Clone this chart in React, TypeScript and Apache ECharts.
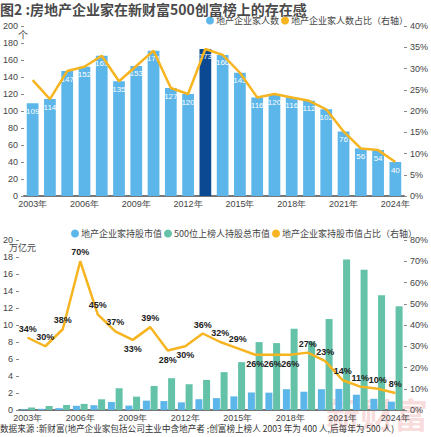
import React, { useEffect, useRef } from 'react';
import * as echarts from 'echarts';

// Years on both charts
const years = [
  '2003年', '2004年', '2005年', '2006年', '2007年', '2008年', '2009年', '2010年',
  '2011年', '2012年', '2013年', '2014年', '2015年', '2016年', '2017年', '2018年',
  '2019年', '2020年', '2021年', '2022年', '2023年', '2024年',
];

// Upper chart: number of real-estate entrepreneurs on the list and their share (%)
const entrepreneurCount = [109, 114, 147, 152, 165, 135, 153, 171, 127, 120, 173, 166, 145, 116, 120, 116, 112, 102, 76, 56, 54, 40];
const entrepreneurShare = [27.25, 22.8, 29.4, 30.4, 33, 27, 30.6, 34.2, 25.4, 24, 34.6, 33.2, 29, 23.2, 24, 23.2, 22.4, 20.4, 15.2, 11.2, 10.8, 8];
const highlightYear = '2013年';

// Lower chart: market value held (万亿元) and the real-estate share (%)
const realEstateValue = [0.1, 0.14, 0.22, 0.5, 0.56, 0.94, 0.52, 1.1, 1.05, 0.9, 1.27, 1.4, 1.6, 2.06, 2.04, 2.45, 2.15, 2.45, 2.48, 1.8, 1.32, 0.98];
const listTotalValue = [0.28, 0.47, 0.59, 0.72, 1.26, 2.56, 1.57, 2.83, 3.74, 3.03, 3.54, 4.45, 5.63, 7.99, 7.87, 9.56, 8.07, 10.7, 17.7, 16.5, 13.5, 12.2];
const realEstateValueShare = [34, 30, 38, 70, 45, 37, 33, 39, 28, 30, 36, 32, 29, 26, 26, 26, 27, 23, 14, 11, 10, 8];
const labelBelowYears = ['2009年', '2011年', '2012年', '2016年', '2017年', '2018年'];

const LEFT_TICKS_TOP = { min: 0, max: 200, interval: 20 };
const RIGHT_TICKS_TOP = { min: 0, max: 40, interval: 5 };
const LEFT_TICKS_BOTTOM = { min: 0, max: 20, interval: 2 };
const RIGHT_TICKS_BOTTOM = { min: 0, max: 80, interval: 10 };

const NARROW = "'Liberation Sans Narrow', 'Liberation Sans', 'Noto Sans', sans-serif";
const CJK = "'Noto Sans CJK SC', 'Noto Sans', sans-serif";

const BLUE = '#5db6e9';
const NAVY = '#0b4a93';
const ORANGE = '#f6b420';
const GREEN = '#63c2a7';
const TEXT = '#444';
const AXIS = '#777';

export default function App() {
  const ref = useRef<HTMLDivElement>(null);

  useEffect(() => {
    if (!ref.current) return;
    const chart = echarts.init(ref.current, null, { renderer: 'svg' });

    const valueAxisBase = {
      type: 'value' as const,
      splitLine: { show: false },
      axisLine: { show: false },
      axisTick: { show: true, length: 3, lineStyle: { color: '#888' } },
    };
    const leftLabel = { fontFamily: NARROW, fontSize: 9, color: TEXT, margin: 6 };
    const rightLabel = { fontFamily: NARROW, fontSize: 9, color: TEXT, margin: 6, formatter: '{value}%' };
    const catAxisBase = {
      type: 'category' as const,
      data: years,
      axisTick: { show: false },
      axisLine: { lineStyle: { color: AXIS, width: 2 } },
      axisLabel: { interval: 2, fontFamily: NARROW, fontSize: 9, color: TEXT, margin: 3 },
    };

    chart.setOption({
      animation: false,
      title: {
        text: '图2 :房地产企业家在新财富500创富榜上的存在感',
        left: 0,
        top: 2,
        padding: 0,
        textStyle: { fontFamily: CJK, fontSize: 14, fontWeight: 'bold', color: '#4a4a4a' },
      },
      legend: [
        {
          data: ['地产企业家人数', '地产企业家人数占比（右轴）'],
          left: 206,
          top: 16,
          padding: 0,
          icon: 'circle',
          itemWidth: 8,
          itemHeight: 8,
          itemGap: 2,
          textStyle: { fontFamily: CJK, fontSize: 9, color: TEXT, padding: [0, 0, 0, -3] },
        },
        {
          data: ['地产企业家持股市值', '500位上榜人持股总市值', '地产企业家持股市值占比（右轴）'],
          left: 71,
          top: 229,
          padding: 0,
          icon: 'circle',
          itemWidth: 8,
          itemHeight: 8,
          itemGap: 2,
          textStyle: { fontFamily: CJK, fontSize: 9, color: TEXT, padding: [0, 0, 0, -3] },
        },
      ],
      grid: [
        { left: 21, right: 22, top: 26, height: 170 },
        { left: 14, right: 19.5, top: 240, height: 170 },
      ],
      xAxis: [
        { ...catAxisBase, gridIndex: 0 },
        { ...catAxisBase, gridIndex: 1 },
      ],
      yAxis: [
        { ...valueAxisBase, gridIndex: 0, ...LEFT_TICKS_TOP, axisLabel: leftLabel },
        { ...valueAxisBase, gridIndex: 0, position: 'right', ...RIGHT_TICKS_TOP, axisLabel: rightLabel },
        { ...valueAxisBase, gridIndex: 1, ...LEFT_TICKS_BOTTOM, axisLabel: leftLabel },
        { ...valueAxisBase, gridIndex: 1, position: 'right', ...RIGHT_TICKS_BOTTOM, axisLabel: rightLabel },
      ],
      series: [
        {
          name: '地产企业家人数',
          type: 'bar',
          xAxisIndex: 0,
          yAxisIndex: 0,
          barWidth: '68%',
          itemStyle: { color: BLUE },
          data: entrepreneurCount.map((v, i) => ({
            value: v,
            itemStyle: { color: years[i] === highlightYear ? NAVY : BLUE },
          })),
          label: {
            show: true,
            position: 'insideTop',
            distance: 4,
            color: '#fff',
            fontFamily: NARROW,
            fontSize: 8,
          },
        },
        {
          name: '地产企业家人数占比（右轴）',
          type: 'line',
          xAxisIndex: 0,
          yAxisIndex: 1,
          data: entrepreneurShare,
          symbol: 'none',
          itemStyle: { color: ORANGE },
          lineStyle: { color: ORANGE, width: 2.5 },
          z: 3,
        },
        {
          name: '地产企业家持股市值',
          type: 'bar',
          xAxisIndex: 1,
          yAxisIndex: 2,
          barWidth: 7,
          barGap: '10%',
          itemStyle: { color: BLUE },
          data: realEstateValue,
        },
        {
          name: '500位上榜人持股总市值',
          type: 'bar',
          xAxisIndex: 1,
          yAxisIndex: 2,
          barWidth: 7,
          barGap: '10%',
          itemStyle: { color: GREEN },
          data: listTotalValue,
        },
        {
          name: '地产企业家持股市值占比（右轴）',
          type: 'line',
          xAxisIndex: 1,
          yAxisIndex: 3,
          symbol: 'circle',
          symbolSize: 1,
          showSymbol: true,
          itemStyle: { color: ORANGE },
          lineStyle: { color: ORANGE, width: 2.5 },
          z: 3,
          data: realEstateValueShare.map((v, i) => ({
            value: v,
            label: { position: labelBelowYears.includes(years[i]) ? 'bottom' : 'top' },
          })),
          label: {
            show: true,
            formatter: '{c}%',
            distance: 4,
            color: '#222',
            fontFamily: NARROW,
            fontWeight: 'bold',
            fontSize: 9,
          },
          labelLayout: { hideOverlap: false },
        },
      ],
      graphic: [
        {
          type: 'text',
          left: 18,
          top: 29,
          style: { text: '个', fontFamily: CJK, fontSize: 10, fill: TEXT },
        },
        {
          type: 'text',
          left: 9,
          top: 243,
          style: { text: '万亿元', fontFamily: CJK, fontSize: 9, fill: TEXT },
        },
        {
          type: 'text',
          left: 0,
          top: 424,
          style: {
            text: '数据来源 :新财富(地产企业家包括公司主业中含地产者 ;创富榜上榜人 2003 年为 400 人,后每年为 500 人)',
            fontFamily: CJK,
            fontSize: 8.6,
            fill: '#333',
          },
        },
        {
          type: 'text',
          left: 326,
          top: 396,
          z: -1,
          style: {
            text: '新财富',
            fontFamily: CJK,
            fontSize: 34,
            fontWeight: 'bold',
            fill: 'rgba(225, 70, 70, 0.2)',
          },
        },
      ],
    });

    return () => chart.dispose();
  }, []);

  return (
    <div
      ref={ref}
      style={{ position: 'fixed', left: 0, top: 0, width: 431, height: 437, background: '#fff' }}
    />
  );
}
